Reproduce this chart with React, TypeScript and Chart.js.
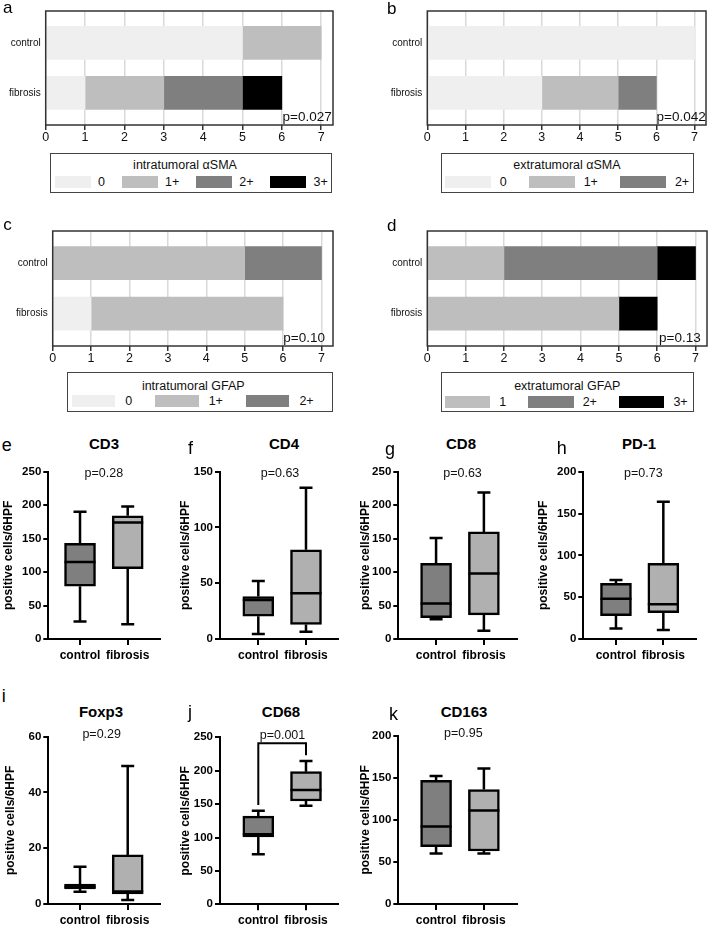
import React, { useEffect, useRef } from "react";
import { Chart, registerables } from "chart.js";
Chart.register(...registerables);

const FONT = '"Liberation Sans", Arial, Helvetica, sans-serif';

// ---------- panels a–d (number of cases per score) ----------
const GROUPS = ["control", "fibrosis"];
const X_TICKS = [0, 1, 2, 3, 4, 5, 6, 7];

const A_TITLE = "intratumoral αSMA";
const A_SCORES = ["0", "1+", "2+", "3+"];
const A_COLORS = ["#efefef", "#bebebe", "#7f7f7f", "#000000"];
const A_CONTROL = [5, 2, 0, 0];
const A_FIBROSIS = [1, 2, 2, 1];
const A_P = "p=0.027";

const B_TITLE = "extratumoral αSMA";
const B_SCORES = ["0", "1+", "2+"];
const B_COLORS = ["#efefef", "#bebebe", "#7f7f7f"];
const B_CONTROL = [7, 0, 0];
const B_FIBROSIS = [3, 2, 1];
const B_P = "p=0.042";

const C_TITLE = "intratumoral GFAP";
const C_SCORES = ["0", "1+", "2+"];
const C_COLORS = ["#efefef", "#bebebe", "#7f7f7f"];
const C_CONTROL = [0, 5, 2];
const C_FIBROSIS = [1, 5, 0];
const C_P = "p=0.10";

const D_TITLE = "extratumoral GFAP";
const D_SCORES = ["1", "2+", "3+"];
const D_COLORS = ["#bebebe", "#7f7f7f", "#000000"];
const D_CONTROL = [2, 4, 1];
const D_FIBROSIS = [5, 0, 1];
const D_P = "p=0.13";

// ---------- panels e–k: [min, Q1, median, Q3, max] ----------
const BOX_GROUPS = ["control", "fibrosis"];
const BOX_COLORS = ["#7f7f7f", "#b0b0b0"];
const Y_TITLE = "positive cells/6HPF";

const CD3_CONTROL = [26, 79, 115, 143, 190];
const CD3_FIBROSIS = [22, 105, 174, 184, 198];
const CD4_CONTROL = [4.5, 20.5, 35, 38, 52];
const CD4_FIBROSIS = [6.5, 13, 41, 80, 135.5];
const CD8_CONTROL = [29.5, 32, 53, 113, 151];
const CD8_FIBROSIS = [12.5, 36, 98, 160, 219];
const PD1_CONTROL = [12.7, 28, 48, 66.5, 70.5];
const PD1_FIBROSIS = [10.8, 31.5, 41.4, 90.5, 164];
const FOXP3_CONTROL = [4.4, 5.4, 6.2, 7.1, 13.4];
const FOXP3_FIBROSIS = [1.4, 3.6, 4.5, 17.6, 49.5];
const CD68_CONTROL = [75, 101, 105, 132, 140];
const CD68_FIBROSIS = [147.6, 154.6, 171, 198.5, 214.5];
const CD163_CONTROL = [60, 68, 92, 147, 152];
const CD163_FIBROSIS = [60, 63, 111, 136, 161];
const CD68_BRACKET_TOP = 241;

function Txt({ x, base, size, bold = false, align = "left", children, color = "#000" }: any) {
  const lh = size * 1.2;
  const top = base - lh / 2 - 0.3465 * size;
  const tx = align === "center" ? "translateX(-50%)" : align === "right" ? "translateX(-100%)" : "none";
  return (
    <div
      style={{
        position: "absolute", left: x, top, fontSize: size, lineHeight: `${lh}px`,
        fontWeight: bold ? 700 : 400, whiteSpace: "nowrap", transform: tx, fontFamily: FONT, color,
      }}
    >
      {children}
    </div>
  );
}

function StackChart({ scores, colors, control, fibrosis, left, top, height, yw, padRight }: any) {
  const ref = useRef<HTMLCanvasElement>(null);
  useEffect(() => {
    const cum = (arr: number[]) => {
      let s = 0;
      return arr.map((v) => { const a = s; s += v; return [a, s]; });
    };
    const cc = cum(control);
    const fc = cum(fibrosis);
    const datasets = scores.map((s: string, i: number) => ({
      label: s,
      data: [
        ...(control[i] > 0 ? [{ y: 1, x: cc[i] }] : []),
        ...(fibrosis[i] > 0 ? [{ y: 0, x: fc[i] }] : []),
      ],
      backgroundColor: colors[i],
      borderWidth: 0,
      barThickness: 33,
      grouped: false,
    }));
    const frame = {
      id: "frame",
      afterDraw(chart: any) {
        const { ctx, chartArea: a } = chart;
        ctx.save();
        ctx.strokeStyle = "#333";
        ctx.lineWidth = 1.5;
        ctx.strokeRect(a.left, a.top, a.right - a.left, a.bottom - a.top);
        ctx.restore();
      },
    };
    const chart = new Chart(ref.current as any, {
      type: "bar",
      data: { datasets },
      options: {
        indexAxis: "y",
        animation: false,
        responsive: false,
        layout: { padding: { top: 1, right: padRight, left: 0, bottom: 0 } },
        plugins: { legend: { display: false }, tooltip: { enabled: false } },
        scales: {
          x: {
            type: "linear", min: 0, max: 7.3, offset: false,
            afterBuildTicks: (s: any) => { s.ticks = X_TICKS.map((v) => ({ value: v })); },
            afterFit: (s: any) => { s.height = 23; },
            grid: { offset: false, color: "#d9d9d9", lineWidth: 1.5, tickColor: "#333", tickLength: 5, tickWidth: 1.5 },
            border: { display: false },
            ticks: { font: { size: 12.5, family: FONT }, color: "#111", padding: 0, maxRotation: 0, autoSkip: false },
          },
          y: {
            type: "linear", min: -0.64, max: 1.635, offset: false,
            afterBuildTicks: (s: any) => { s.ticks = [{ value: 0 }, { value: 1 }]; },
            afterFit: (s: any) => { s.width = yw; },
            grid: { display: false, drawTicks: false, offset: false },
            border: { display: false },
            ticks: {
              callback: (v: any) => (v === 1 ? GROUPS[0] : GROUPS[1]),
              font: { size: 10, family: FONT }, color: "#111", padding: 5,
            },
          },
        },
      } as any,
      plugins: [frame],
    });
    return () => chart.destroy();
  }, []);
  return (
    <canvas
      ref={ref}
      width={354}
      height={height}
      style={{ position: "absolute", left, top, width: 354, height }}
    />
  );
}

function BoxChart({ control, fibrosis, yMax, yStep, left, top, width, height, yw, padTop, padRight, xh, xMin, xMax, bracketTop }: any) {
  const ref = useRef<HTMLCanvasElement>(null);
  useEffect(() => {
    const groups = [control, fibrosis];
    const whiskers = {
      id: "whiskers",
      afterDatasetsDraw(chart: any) {
        const { ctx, scales } = chart;
        const x = scales.x;
        const y = scales.y;
        const meta = chart.getDatasetMeta(0);
        ctx.save();
        ctx.strokeStyle = "#000";
        ctx.lineWidth = 2.5;
        ctx.lineCap = "butt";
        groups.forEach((d: number[], i: number) => {
          const el = meta.data[i];
          const cx = x.getPixelForValue(i);
          const half = el.width / 2;
          const cap = 6.5;
          ctx.beginPath();
          ctx.moveTo(cx, y.getPixelForValue(d[3]));
          ctx.lineTo(cx, y.getPixelForValue(d[4]));
          ctx.moveTo(cx, y.getPixelForValue(d[1]));
          ctx.lineTo(cx, y.getPixelForValue(d[0]));
          ctx.moveTo(cx - cap, y.getPixelForValue(d[4]));
          ctx.lineTo(cx + cap, y.getPixelForValue(d[4]));
          ctx.moveTo(cx - cap, y.getPixelForValue(d[0]));
          ctx.lineTo(cx + cap, y.getPixelForValue(d[0]));
          ctx.moveTo(cx - half, y.getPixelForValue(d[2]));
          ctx.lineTo(cx + half, y.getPixelForValue(d[2]));
          ctx.stroke();
        });
        if (bracketTop !== undefined) {
          const gap = 8.5;
          ctx.lineWidth = 2;
          ctx.beginPath();
          ctx.moveTo(x.getPixelForValue(0), y.getPixelForValue(control[4] + gap));
          ctx.lineTo(x.getPixelForValue(0), y.getPixelForValue(bracketTop));
          ctx.lineTo(x.getPixelForValue(1), y.getPixelForValue(bracketTop));
          ctx.lineTo(x.getPixelForValue(1), y.getPixelForValue(fibrosis[4] + gap));
          ctx.stroke();
        }
        ctx.restore();
      },
    };
    const chart = new Chart(ref.current as any, {
      type: "bar",
      data: {
        datasets: [
          {
            data: groups.map((d: number[], i: number) => ({ x: i, y: [d[1], d[3]] })),
            backgroundColor: BOX_COLORS,
            borderColor: "#000",
            borderWidth: 2.5,
            borderSkipped: false,
            barThickness: 31,
          },
        ],
      },
      options: {
        animation: false,
        responsive: false,
        layout: { padding: { top: padTop, right: padRight, left: 0, bottom: 0 } },
        plugins: { legend: { display: false }, tooltip: { enabled: false } },
        scales: {
          x: {
            type: "linear", min: xMin, max: xMax, offset: false,
            afterBuildTicks: (s: any) => { s.ticks = [{ value: 0 }, { value: 1 }]; },
            afterFit: (s: any) => { s.height = xh; },
            grid: { offset: false, drawOnChartArea: false, color: "#000", lineWidth: 2, tickLength: 6 },
            border: { color: "#000", width: 2 },
            ticks: {
              callback: (v: any) => BOX_GROUPS[v],
              font: { size: 12, weight: "bold", family: FONT }, color: "#000", padding: 3,
              maxRotation: 0, autoSkip: false,
            },
          },
          y: {
            type: "linear", min: 0, max: yMax,
            afterFit: (s: any) => { s.width = yw; },
            grid: { drawOnChartArea: false, color: "#000", lineWidth: 2, tickLength: 5 },
            border: { color: "#000", width: 2 },
            ticks: { stepSize: yStep, font: { size: 11.5, weight: "bold", family: FONT }, color: "#000", padding: 2 },
            title: {
              display: true, text: Y_TITLE, color: "#000",
              font: { size: 12, weight: "bold", family: FONT }, padding: { top: 1, bottom: 0 },
            },
          },
        },
      } as any,
      plugins: [whiskers],
    });
    return () => chart.destroy();
  }, []);
  return (
    <canvas
      ref={ref}
      width={width}
      height={height}
      style={{ position: "absolute", left, top, width, height }}
    />
  );
}

function Legend({ box, title, titleX, titleC, scores, colors, itemsLeft, swTop, swW, labelGap, itemGap }: any) {
  return (
    <>
      <div
        style={{
          position: "absolute", left: box[0], top: box[1], width: box[2], height: box[3],
          border: "1.5px solid #444", boxSizing: "border-box",
        }}
      />
      <Txt x={titleX} base={titleC + 0.358 * 12.5} size={12.5} align="center" color="#111">{title}</Txt>
      <div
        style={{
          position: "absolute", left: itemsLeft, top: swTop, height: 12, display: "flex",
          alignItems: "center", gap: itemGap, fontFamily: FONT, fontSize: 12.5, color: "#111", whiteSpace: "nowrap",
        }}
      >
        {scores.map((s: string, i: number) => (
          <div key={s} style={{ display: "flex", alignItems: "center", gap: labelGap }}>
            <div style={{ width: swW, height: 12, background: colors[i] }} />
            <span style={{ lineHeight: "12px" }}>{s}</span>
          </div>
        ))}
      </div>
    </>
  );
}

export default function App() {
  useEffect(() => {
    document.body.style.margin = "0";
    document.body.style.background = "#fff";
  }, []);
  const row1 = { top: 462, height: 210, xh: 33 };
  const row2 = { top: 726, height: 200, xh: 22 };
  return (
    <div style={{ position: "relative", width: 708, height: 926, background: "#fff", overflow: "hidden", fontFamily: FONT }}>
      {/* a–d */}
      <StackChart scores={A_SCORES} colors={A_COLORS} control={A_CONTROL} fibrosis={A_FIBROSIS} left={0} top={0} height={148} yw={45.7} padRight={21} />
      <StackChart scores={B_SCORES} colors={B_COLORS} control={B_CONTROL} fibrosis={B_FIBROSIS} left={354} top={0} height={148} yw={73.3} padRight={2} />
      <StackChart scores={C_SCORES} colors={C_COLORS} control={C_CONTROL} fibrosis={C_FIBROSIS} left={0} top={219.7} height={149} yw={52.7} padRight={21} />
      <StackChart scores={D_SCORES} colors={D_COLORS} control={D_CONTROL} fibrosis={D_FIBROSIS} left={354} top={219.7} height={149} yw={73.3} padRight={1} />

      <Txt x={331.7} base={121.3} size={13.5} align="right" color="#111">{A_P}</Txt>
      <Txt x={705.7} base={121.3} size={13.5} align="right" color="#111">{B_P}</Txt>
      <Txt x={325} base={342.3} size={13.5} align="right" color="#111">{C_P}</Txt>
      <Txt x={700.7} base={342.3} size={13.5} align="right" color="#111">{D_P}</Txt>

      <Legend box={[50, 153, 282, 40]} title={A_TITLE} titleX={185} titleC={165} scores={A_SCORES} colors={A_COLORS}
        itemsLeft={55} swTop={176} swW={36} labelGap={7} itemGap={17} />
      <Legend box={[440.7, 153, 253.3, 40]} title={B_TITLE} titleX={567} titleC={165} scores={B_SCORES} colors={B_COLORS}
        itemsLeft={444.7} swTop={175.7} swW={46} labelGap={9} itemGap={22} />
      <Legend box={[66.7, 372, 266.7, 40]} title={C_TITLE} titleX={193.3} titleC={386} scores={C_SCORES} colors={C_COLORS}
        itemsLeft={71.7} swTop={395} swW={43.5} labelGap={10} itemGap={23} />
      <Legend box={[440.7, 372, 253.3, 40]} title={D_TITLE} titleX={567.3} titleC={386} scores={D_SCORES} colors={D_COLORS}
        itemsLeft={444.7} swTop={395.5} swW={45.5} labelGap={9} itemGap={22} />

      <Txt x={3} base={14} size={17}>a</Txt>
      <Txt x={387} base={15} size={17}>b</Txt>
      <Txt x={3.3} base={230.7} size={17}>c</Txt>
      <Txt x={387} base={231.7} size={17}>d</Txt>

      {/* e–h */}
      <BoxChart control={CD3_CONTROL} fibrosis={CD3_FIBROSIS} yMax={250} yStep={50} left={0} width={175} yw={48.3} padRight={15}
        top={row1.top} height={row1.height} xh={row1.xh} padTop={9.7} xMin={-0.665} xMax={1.677} />
      <BoxChart control={CD4_CONTROL} fibrosis={CD4_FIBROSIS} yMax={150} yStep={50} left={177} width={175} yw={43} padRight={14}
        top={row1.top} height={row1.height} xh={row1.xh} padTop={9.7} xMin={-0.803} xMax={1.671} />
      <BoxChart control={CD8_CONTROL} fibrosis={CD8_FIBROSIS} yMax={250} yStep={50} left={357} width={175} yw={41.3} padRight={15.3}
        top={row1.top} height={row1.height} xh={row1.xh} padTop={9.7} xMin={-0.79} xMax={1.686} />
      <BoxChart control={PD1_CONTROL} fibrosis={PD1_FIBROSIS} yMax={200} yStep={50} left={535} width={173} yw={48.3} padRight={12}
        top={row1.top} height={row1.height} xh={row1.xh} padTop={9.7} xMin={-0.69} xMax={1.69} />

      {/* i–k */}
      <BoxChart control={FOXP3_CONTROL} fibrosis={FOXP3_FIBROSIS} yMax={60} yStep={20} left={2} width={173} yw={46.3} padRight={15}
        top={row2.top} height={row2.height} xh={row2.xh} padTop={10.7} xMin={-0.665} xMax={1.677} />
      <BoxChart control={CD68_CONTROL} fibrosis={CD68_FIBROSIS} yMax={250} yStep={50} left={177} width={175} yw={43} padRight={14}
        top={row2.top} height={row2.height} xh={21.7} padTop={11.3} xMin={-0.803} xMax={1.671} bracketTop={CD68_BRACKET_TOP} />
      <BoxChart control={CD163_CONTROL} fibrosis={CD163_FIBROSIS} yMax={200} yStep={50} left={357} width={175} yw={41.3} padRight={15.3}
        top={row2.top} height={row2.height} xh={row2.xh} padTop={9.7} xMin={-0.79} xMax={1.686} />

      <Txt x={104} base={449.5} size={15} bold align="center">CD3</Txt>
      <Txt x={284} base={449.5} size={15} bold align="center">CD4</Txt>
      <Txt x={461} base={449.5} size={15} bold align="center">CD8</Txt>
      <Txt x={639} base={449.5} size={15} bold align="center">PD-1</Txt>
      <Txt x={101} base={716.7} size={15} bold align="center">Foxp3</Txt>
      <Txt x={281} base={716.7} size={15} bold align="center">CD68</Txt>
      <Txt x={464} base={716.7} size={15} bold align="center">CD163</Txt>

      <Txt x={103.8} base={477.8} size={12.5} align="center" color="#111">p=0.28</Txt>
      <Txt x={280} base={477.8} size={12.5} align="center" color="#111">p=0.63</Txt>
      <Txt x={462.5} base={477.8} size={12.5} align="center" color="#111">p=0.63</Txt>
      <Txt x={643.3} base={477.8} size={12.5} align="center" color="#111">p=0.73</Txt>
      <Txt x={101.7} base={739.2} size={12.5} align="center" color="#111">p=0.29</Txt>
      <Txt x={282.5} base={740.3} size={12.5} align="center" color="#111">p=0.001</Txt>
      <Txt x={463.3} base={737.5} size={12.5} align="center" color="#111">p=0.95</Txt>

      <Txt x={1.7} base={451.7} size={18}>e</Txt>
      <Txt x={188} base={455} size={18}>f</Txt>
      <Txt x={385} base={456} size={18}>g</Txt>
      <Txt x={556.7} base={455} size={18}>h</Txt>
      <Txt x={1.7} base={703} size={18}>i</Txt>
      <Txt x={188} base={719.5} size={18}>j</Txt>
      <Txt x={389} base={721.5} size={18}>k</Txt>
    </div>
  );
}
